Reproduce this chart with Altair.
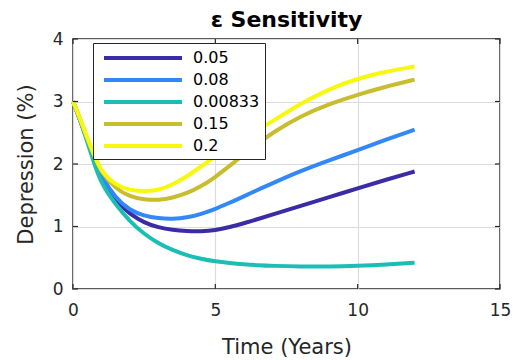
import altair as alt
import pandas as pd

# time points (years)
years = [0, 0.25, 0.5, 0.75, 1, 1.5, 2, 2.5, 3, 3.5, 4, 4.5, 5, 5.5, 6, 6.5, 7, 8, 9, 10, 11, 12]

eps_005 = [3, 2.71, 2.38, 2.07, 1.78, 1.40, 1.20, 1.06, 0.985, 0.945, 0.925, 0.92, 0.94, 0.99, 1.05, 1.12, 1.19, 1.33, 1.47, 1.61, 1.75, 1.88]
eps_008 = [3, 2.71, 2.38, 2.08, 1.80, 1.45, 1.26, 1.17, 1.13, 1.12, 1.14, 1.20, 1.28, 1.38, 1.48, 1.59, 1.69, 1.89, 2.06, 2.22, 2.39, 2.55]
eps_000833 = [3, 2.70, 2.36, 2.00, 1.68, 1.35, 1.08, 0.88, 0.73, 0.62, 0.54, 0.48, 0.44, 0.415, 0.395, 0.38, 0.37, 0.36, 0.36, 0.37, 0.39, 0.42]
eps_015 = [3, 2.72, 2.40, 2.12, 1.86, 1.60, 1.48, 1.43, 1.42, 1.46, 1.53, 1.64, 1.79, 1.97, 2.15, 2.33, 2.50, 2.77, 2.96, 3.11, 3.24, 3.35]
eps_02 = [3, 2.73, 2.42, 2.14, 1.87, 1.66, 1.58, 1.56, 1.58, 1.67, 1.80, 1.96, 2.12, 2.27, 2.42, 2.55, 2.68, 2.97, 3.20, 3.37, 3.48, 3.56]

series_names = ["0.05", "0.08", "0.00833", "0.15", "0.2"]
series_values = [eps_005, eps_008, eps_000833, eps_015, eps_02]
series_colors = ["#3a2ba6", "#3388f8", "#1cbdb4", "#c8bd2f", "#f8f80f"]

x_ticks = [0, 5, 10, 15]
y_ticks = [0, 1, 2, 3, 4]

rows = []
for k, (name, vals) in enumerate(zip(series_names, series_values)):
    for t, v in zip(years, vals):
        rows.append({"Time": t, "Depression": v, "eps": name, "k": k})
df = pd.DataFrame(rows)

FONT = "DejaVu Sans"
W, H = 427, 250

xscale = alt.Scale(domain=[0, 15], nice=False)
yscale = alt.Scale(domain=[0, 4], nice=False)

lines = alt.Chart(df).mark_line(strokeWidth=4, interpolate="basis").encode(
    x=alt.X("Time:Q", scale=xscale,
            axis=alt.Axis(values=x_ticks, title="Time (Years)", grid=True, ticks=False,
                          domain=False, labelPadding=13, titlePadding=18, format="d",
                          labelFlush=False)),
    y=alt.Y("Depression:Q", scale=yscale,
            axis=alt.Axis(values=y_ticks, title="Depression (%)", grid=True, ticks=False,
                          domain=False, labelPadding=10, titlePadding=16, format="d",
                          labelFlush=False)),
    color=alt.Color("eps:N",
                    scale=alt.Scale(domain=series_names, range=series_colors),
                    legend=alt.Legend(title=None, orient="none", legendX=20, legendY=4,
                                      symbolType="M-0.5,0H9.25", symbolSize=256,
                                      symbolStrokeWidth=4, labelOffset=75,
                                      labelFontSize=16, labelFont=FONT, labelColor="#000000",
                                      rowPadding=4, padding=5,
                                      strokeColor="#262626", fillColor="white")),
    order=alt.Order("k:Q"),
    detail="eps:N",
)

xt = pd.DataFrame({"v": x_ticks})
yt = pd.DataFrame({"v": y_ticks})
tick_col = "#262626"
xb = alt.Chart(xt).mark_rule(color=tick_col, strokeWidth=1.2).encode(
    x=alt.X("v:Q", scale=xscale), y=alt.value(H), y2=alt.value(H - 5))
xtop = alt.Chart(xt).mark_rule(color=tick_col, strokeWidth=1.2).encode(
    x=alt.X("v:Q", scale=xscale), y=alt.value(0), y2=alt.value(5))
yl = alt.Chart(yt).mark_rule(color=tick_col, strokeWidth=1.2).encode(
    y=alt.Y("v:Q", scale=yscale), x=alt.value(0), x2=alt.value(5))
yr = alt.Chart(yt).mark_rule(color=tick_col, strokeWidth=1.2).encode(
    y=alt.Y("v:Q", scale=yscale), x=alt.value(W), x2=alt.value(W - 5))

chart = alt.layer(lines, xb, xtop, yl, yr).properties(
    width=W, height=H,
    title=alt.TitleParams("ε Sensitivity", fontSize=22, font=FONT, fontWeight="bold",
                          anchor="middle", offset=-2, frame="group", color="#000000"),
    autosize=alt.AutoSizeParams(type="none"),
    padding={"left": 73, "top": 39, "right": 14, "bottom": 71},
    background="white",
).configure_view(
    stroke="#262626", strokeWidth=1.5
).configure_axis(
    labelFont=FONT, labelFontSize=17, labelColor="#262626",
    titleFont=FONT, titleFontSize=21, titleColor="#262626", titleFontWeight="normal",
    gridColor="#dcdcdc", gridWidth=1.2,
)

chart.save("out.html", embed_options={"renderer": "svg", "actions": False})
